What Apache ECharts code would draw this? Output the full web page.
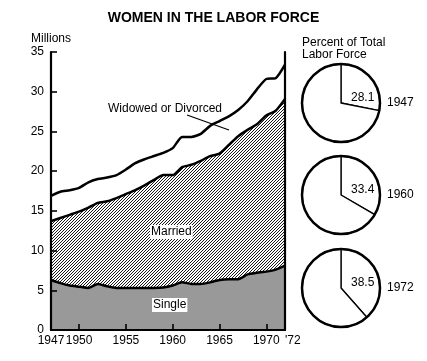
<!DOCTYPE html>
<html><head><meta charset="utf-8">
<script src="https://cdn.jsdelivr.net/npm/echarts@6/dist/echarts.min.js"></script>
<style>html,body{margin:0;padding:0;background:#fff}#c{width:427px;height:361px}</style>
</head><body><div id="c"></div>
<script>
const years = ['1947','1948','1949','1950','1951','1952','1953','1954','1955','1956','1957','1958','1959','1960','1961','1962','1963','1964','1965','1966','1967','1968','1969','1970','1971','1972'];
const singleVals  = [6.3,5.9,5.6,5.45,5.3,5.8,5.5,5.3,5.3,5.3,5.3,5.3,5.35,5.6,6.0,5.8,5.8,6.0,6.3,6.4,6.4,7.0,7.2,7.35,7.6,8.1];
const marriedVals = [7.4,8.2,8.9,9.45,10.1,10.2,10.7,11.3,11.8,12.3,12.9,13.6,14.15,13.9,14.5,15.0,15.5,15.9,15.9,16.9,18.0,18.2,18.7,19.65,20.0,21.0];
const widowedVals = [3.2,3.3,3.1,3.0,3.2,3.0,3.0,2.9,3.1,3.4,3.3,3.0,2.8,3.4,3.8,3.5,3.4,3.8,4.1,3.6,3.3,3.6,4.4,4.6,4.1,4.3];
const xLabelYears = ['1947','1950','1955','1960','1965','1970','1972'];
const xLabelTexts = ['1947','1950','1955','1960','1965','1970',"'72"];
const xTickYears = ['1950','1955','1960','1965','1970'];
const pieYears = ['1947','1960','1972'];
const piePct = [28.1,33.4,38.5];

const FONT = 'Liberation Sans, Arial, sans-serif';

// hatch pattern
const pat = document.createElement('canvas');
pat.width = 24; pat.height = 24;
const g = pat.getContext('2d');
g.fillStyle = '#fff'; g.fillRect(0,0,24,24);
g.strokeStyle = '#000'; g.lineWidth = 0.9;
for (let k = -24; k <= 48; k += 3) {
  g.beginPath(); g.moveTo(k, 24); g.lineTo(k + 24, 0); g.stroke();
}

const chart = echarts.init(document.getElementById('c'), null, {renderer:'canvas'});
const lineStyle = {color:'#000', width:2.5};

const pieCenters = [[341,103],[341,195],[341,288]];
const R = 39;
const pieSeries = [];
const graphics = [];
pieYears.forEach((y, i) => {
  pieSeries.push({
    type:'pie', silent:true, center: pieCenters[i], radius:[0, R], startAngle:90, clockwise:true,
    label:{show:false}, labelLine:{show:false}, animation:false,
    itemStyle:{color:'#fff', borderColor:'#000', borderWidth:1.3},
    data:[{value:piePct[i]},{value:100 - piePct[i]}]
  });
  pieSeries.push({
    type:'pie', silent:true, center: pieCenters[i], radius:[0, R], animation:false,
    label:{show:false}, labelLine:{show:false}, z:3,
    itemStyle:{color:'rgba(0,0,0,0)', borderColor:'#000', borderWidth:2.5},
    data:[{value:1}]
  });
  graphics.push({type:'text', left: pieCenters[i][0] + 10, top: pieCenters[i][1] - 11,
    style:{text: String(piePct[i]), font:'12px ' + FONT, fill:'#000'}, z:10});
  graphics.push({type:'text', left: 387, top: pieCenters[i][1] - 6,
    style:{text: y, font:'12px ' + FONT, fill:'#000'}, z:10});
});

graphics.push(
  {type:'text', left:'center', top:11, style:{text:'WOMEN IN THE LABOR FORCE', font:'bold 14px ' + FONT, fill:'#000'}},
  {type:'text', left:31, top:33, style:{text:'Millions', font:'12px ' + FONT, fill:'#000'}},
  {type:'text', left:302, top:37, style:{text:'Percent of Total\nLabor Force', font:'12px ' + FONT, fill:'#000', lineHeight:12}},
  {type:'text', left:108, top:103, style:{text:'Widowed or Divorced', font:'12px ' + FONT, fill:'#000'}, z:10},
  {type:'line', shape:{x1:187, y1:115, x2:229, y2:130}, style:{stroke:'#000', lineWidth:1.3}, z:10},
  {type:'text', left:150, top:225, style:{text:'Married', font:'12px ' + FONT, fill:'#000', backgroundColor:'#fff', padding:[1,1]}, z:10},
  {type:'text', left:152, top:298, style:{text:'Single', font:'12px ' + FONT, fill:'#000', backgroundColor:'#fff', padding:[1,1]}, z:10}
);

chart.setOption({
  animation:false,
  backgroundColor:'#fff',
  textStyle:{fontFamily:FONT},
  grid:{left:51, right:142, top:52, bottom:31, show:false},
  xAxis:[{
    type:'category', data:years, boundaryGap:false, z:10,
    axisLine:{show:true, lineStyle:{color:'#000', width:2.2}},
    axisTick:{show:true, inside:true, length:6, lineStyle:{color:'#000', width:1.6},
      interval:(idx, val) => xTickYears.includes(val)},
    axisLabel:{color:'#000', fontSize:12, margin:5, fontFamily:FONT,
      showMinLabel:true, showMaxLabel:true, hideOverlap:false, alignMaxLabel:'left',
      interval:(idx, val) => xLabelYears.includes(val),
      formatter:(val) => xLabelTexts[xLabelYears.indexOf(val)]},
    splitLine:{show:false}
  },{
    type:'category', data:years, boundaryGap:false, position:'top', z:10,
    axisLine:{show:true, lineStyle:{color:'#000', width:2.2}},
    axisTick:{show:false}, axisLabel:{show:false}
  }],
  yAxis:[{
    type:'value', min:0, max:35, interval:5, z:10,
    axisLine:{show:true, lineStyle:{color:'#000', width:2.2}},
    axisTick:{show:true, inside:true, length:6, lineStyle:{color:'#000', width:1.6}},
    axisLabel:{color:'#000', fontSize:12, margin:7, fontFamily:FONT},
    splitLine:{show:false}
  },{
    type:'value', min:0, max:35, interval:5, position:'right', z:10,
    axisLine:{show:true, lineStyle:{color:'#000', width:2.2}},
    axisTick:{show:false}, axisLabel:{show:false}, splitLine:{show:false}
  }],
  series:[
    {name:'Single', type:'line', stack:'t', data:singleVals, symbol:'none', smooth:0.2,
     lineStyle:lineStyle, areaStyle:{color:'#999999', opacity:1}, z:2},
    {name:'Married', type:'line', stack:'t', data:marriedVals, symbol:'none', smooth:0.2,
     lineStyle:lineStyle, areaStyle:{color:{image:pat, repeat:'repeat'}, opacity:1}, z:2},
    {name:'Widowed or Divorced', type:'line', stack:'t', data:widowedVals, symbol:'none', smooth:0.2,
     lineStyle:lineStyle, z:2}
  ].concat(pieSeries),
  graphic: graphics
});
</script></body></html>
